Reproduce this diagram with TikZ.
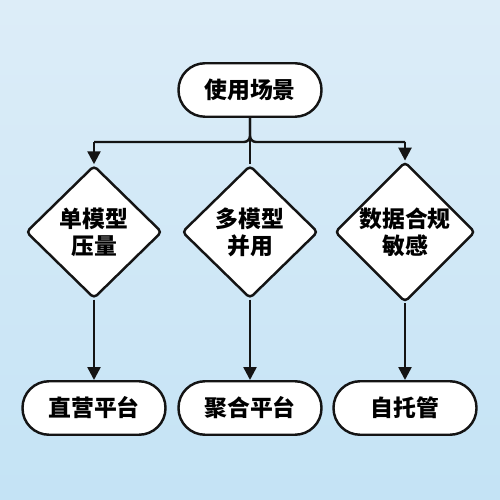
\documentclass[tikz,border=0pt]{standalone}
\usepackage{fontspec}
\newfontfamily\cjk{Noto Sans CJK SC}
\usetikzlibrary{arrows.meta,shapes.geometric}
\definecolor{bgtop}{RGB}{221,237,248}
\definecolor{bgbot}{RGB}{196,227,245}
\definecolor{ink}{RGB}{20,20,20}
\tikzset{
  pill/.style={draw=ink, fill=white, line width=1.4pt, rounded corners=0.53cm,
    minimum width=2.86cm, minimum height=1.07cm, font=\cjk\bfseries\fontsize{13}{15}\selectfont},
  choice/.style={draw=ink, fill=white, line width=1.4pt, diamond, rounded corners=0.08cm,
    inner sep=0pt, minimum width=2.72cm, minimum height=2.66cm, align=center,
    font=\cjk\bfseries\fontsize{13}{15.4}\selectfont},
  link/.style={draw=ink, line width=1.4pt},
  flow/.style={link, -{Triangle[width=0.26cm,length=0.26cm]}}
}
\begin{document}
\begin{tikzpicture}
			%%%%% START %%%%%
			
			\shade[top color=bgtop, bottom color=bgbot] (0, 0) rectangle (10, 10);
			\useasboundingbox (0, 0) rectangle (10, 10);
			
			\node[pill] (scene) at (5, 8.2) {使用场景};
			
			\node[choice] (single) at (1.88, 5.36) {单模型\\压量};
			\node[choice] (multi) at (5, 5.36) {多模型\\并用};
			\node[choice] (comply) at (8.1, 5.36) {数据合规\\敏感};
			
			\node[pill] (direct) at (1.88, 1.84) {直营平台};
			\node[pill] (hub) at (5, 1.84) {聚合平台};
			\node[pill] (self) at (8.1, 1.84) {自托管};
			
			\coordinate (splitl) at (1.88, 7.16);
			\coordinate (splitr) at (8.1, 7.16);
			
			\draw[link, rounded corners=0.12cm] (scene.south) |- (splitl);
			\draw[link, rounded corners=0.12cm] (scene.south) |- (splitr);
			\draw[link] (scene.south) -- (multi.north);
			\draw[flow] (splitl) -- (single.north);
			\draw[flow] (splitr) -- (comply.north);
			
			\draw[flow] (single.south) -- (direct.north);
			\draw[flow] (multi.south) -- (hub.north);
			\draw[flow] (comply.south) -- (self.north);
			
			%%%%% END %%%%%
		\end{tikzpicture}
\end{document}
